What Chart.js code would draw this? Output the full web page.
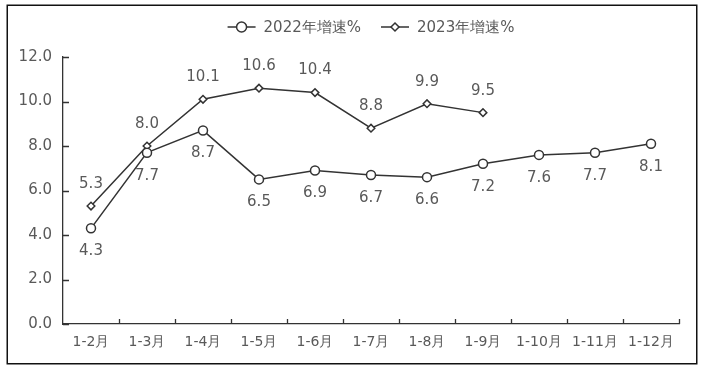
<!DOCTYPE html>
<html>
<head>
<meta charset="utf-8">
<script src="https://cdn.jsdelivr.net/npm/chart.js@4/dist/chart.umd.min.js"></script>
<style>
  html, body { margin: 0; padding: 0; background: #fff; }
  #wrap { width: 703px; height: 369px; }
</style>
</head>
<body>
<div id="wrap"><canvas id="c" width="703" height="369"></canvas></div>
<script>
const categories = ['1-2月','1-3月','1-4月','1-5月','1-6月','1-7月','1-8月','1-9月','1-10月','1-11月','1-12月'];
const series2022 = [4.3, 7.7, 8.7, 6.5, 6.9, 6.7, 6.6, 7.2, 7.6, 7.7, 8.1];
const series2023 = [5.3, 8.0, 10.1, 10.6, 10.4, 8.8, 9.9, 9.5, null, null, null];
const seriesNames = ['2022年增速%', '2023年增速%'];
const yTicks = [0, 2, 4, 6, 8, 10, 12];

const FONT = '"DejaVu Sans", sans-serif';
const TEXT = '#595959';
const LINE = '#333333';

const extras = {
  id: 'extras',
  afterDraw(chart) {
    const ctx = chart.ctx;
    const xs = chart.scales.x, ys = chart.scales.y;
    const area = chart.chartArea;
    ctx.save();
    // inward tick marks
    ctx.strokeStyle = LINE;
    ctx.lineWidth = 1.3;
    ctx.beginPath();
    const n = categories.length;
    for (let i = 1; i <= n; i++) {
      const x = Math.round(xs.left + i * (xs.width / n)) + 0.5;
      ctx.moveTo(x, xs.top);
      ctx.lineTo(x, xs.top - 5);
    }
    ys.ticks.forEach((t, i) => {
      const y = Math.round(ys.getPixelForTick(i)) + 0.5;
      ctx.moveTo(ys.right, y);
      ctx.lineTo(ys.right + 6, y);
    });
    ctx.stroke();

    // data labels
    ctx.font = '15px ' + FONT;
    ctx.fillStyle = TEXT;
    ctx.textAlign = 'center';
    ctx.textBaseline = 'middle';
    chart.data.datasets.forEach((ds, di) => {
      const meta = chart.getDatasetMeta(di);
      meta.data.forEach((pt, i) => {
        const v = ds.data[i];
        if (v === null || v === undefined) return;
        const dy = di === 0 ? 23 : -22;
        ctx.fillText(v.toFixed(1), pt.x, pt.y + dy);
      });
    });

    // legend
    ctx.font = '15px ' + FONT;
    ctx.textBaseline = 'middle';
    ctx.textAlign = 'left';
    const lineLen = 28, gapText = 8, gapItem = 20;
    const widths = seriesNames.map(s => ctx.measureText(s).width);
    const total = widths.reduce((a, w) => a + lineLen + gapText + w, 0) + gapItem;
    let lx = (area.left + area.right) / 2 - total / 2;
    const ly = 27;
    seriesNames.forEach((name, i) => {
      ctx.strokeStyle = LINE;
      ctx.lineWidth = 1.5;
      ctx.beginPath();
      ctx.moveTo(lx, ly);
      ctx.lineTo(lx + lineLen, ly);
      ctx.stroke();
      const cx = lx + lineLen / 2;
      ctx.fillStyle = '#fff';
      ctx.beginPath();
      if (i === 0) {
        ctx.arc(cx, ly, 5, 0, Math.PI * 2);
      } else {
        ctx.moveTo(cx, ly - 4); ctx.lineTo(cx + 4, ly);
        ctx.lineTo(cx, ly + 4); ctx.lineTo(cx - 4, ly); ctx.closePath();
      }
      ctx.fill();
      ctx.stroke();
      ctx.fillStyle = TEXT;
      ctx.fillText(name, lx + lineLen + gapText, ly + 1);
      lx += lineLen + gapText + widths[i] + gapItem;
    });

    // outer frame
    ctx.strokeStyle = '#111';
    ctx.lineWidth = 1.5;
    ctx.strokeRect(7.25, 5.25, 689.5, 358.5);
    ctx.restore();
  }
};

new Chart(document.getElementById('c'), {
  type: 'line',
  data: {
    labels: categories,
    datasets: [
      {
        label: seriesNames[0],
        data: series2022,
        borderColor: LINE,
        borderWidth: 1.5,
        backgroundColor: '#fff',
        pointStyle: 'circle',
        pointRadius: 4.5,
        pointBorderWidth: 1.5,
        pointBackgroundColor: '#fff',
        pointBorderColor: LINE,
        tension: 0,
        spanGaps: false
      },
      {
        label: seriesNames[1],
        data: series2023,
        borderColor: LINE,
        borderWidth: 1.5,
        backgroundColor: '#fff',
        pointStyle: 'rectRot',
        pointRadius: 3.8,
        pointBorderWidth: 1.5,
        pointBackgroundColor: '#fff',
        pointBorderColor: LINE,
        tension: 0,
        spanGaps: false
      }
    ]
  },
  options: {
    responsive: false,
    animation: false,
    devicePixelRatio: 1,
    layout: { padding: { left: 0, right: 24, top: 57, bottom: 0 } },
    plugins: { legend: { display: false }, tooltip: { enabled: false } },
    scales: {
      x: {
        type: 'category',
        offset: true,
        grid: { display: true, drawOnChartArea: false, drawTicks: false, offset: true },
        border: { display: true, color: LINE, width: 1.3 },
        ticks: { color: TEXT, font: { family: FONT, size: 14 }, padding: 10, maxRotation: 0, autoSkip: false },
        afterFit(scale) { scale.height = 45; }
      },
      y: {
        min: 0, max: 12,
        afterBuildTicks(scale) { scale.ticks = yTicks.map(v => ({ value: v })); },
        grid: { display: true, drawOnChartArea: false, drawTicks: false },
        border: { display: true, color: LINE, width: 1.3 },
        ticks: { color: TEXT, font: { family: FONT, size: 15 }, padding: 11, callback: v => Number(v).toFixed(1) },
        afterFit(scale) { scale.width = 63; }
      }
    }
  },
  plugins: [extras]
});
</script>
</body>
</html>
